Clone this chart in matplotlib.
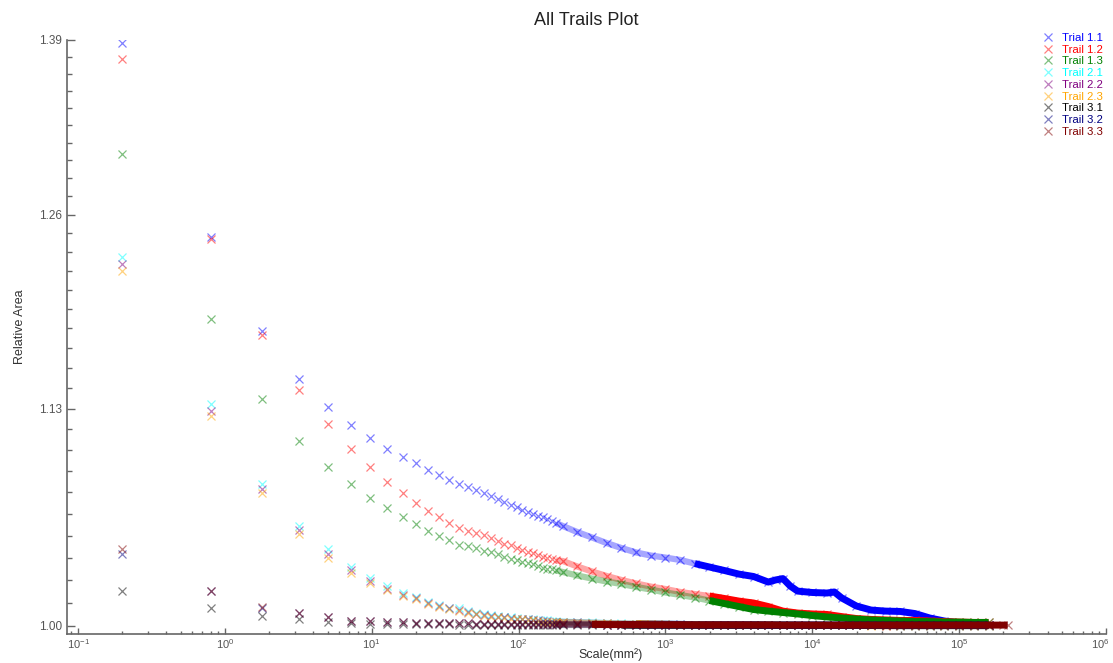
import numpy as np
import matplotlib
matplotlib.use("Agg")
import matplotlib.pyplot as plt
from matplotlib.ticker import FixedLocator, LogLocator, NullFormatter
from matplotlib.transforms import ScaledTranslation

plt.rcParams['font.family'] = ['Liberation Sans', 'DejaVu Sans']
plt.rcParams['mathtext.fontset'] = 'custom'
plt.rcParams['mathtext.rm'] = 'Liberation Sans'
plt.rcParams['mathtext.it'] = 'Liberation Sans:italic'
plt.rcParams['mathtext.bf'] = 'Liberation Sans:bold'

# ---------------- data ----------------
series_names = ["Trial 1.1", "Trail 1.2", "Trail 1.3", "Trail 2.1", "Trail 2.2",
                "Trail 2.3", "Trail 3.1", "Trail 3.2", "Trail 3.3"]

# box-scale values (mm^2) for the individually visible points
scale_disc = [0.2, 0.8, 1.8, 3.2, 5.0, 7.2, 9.8, 12.8, 16.2, 20.0, 24.2, 28.8, 33.8, 39.2,
              45.0, 51.2, 57.8, 64.8, 72.2, 80.0, 88.2, 96.8, 105.8, 115.2, 125.0, 135.2,
              145.8, 156.8, 168.2, 180.0]

# scale values for the dense (overlapping) tail
scale_tail = [200, 251, 316, 398, 501, 631, 794, 1000, 1259, 1585, 1995, 2512, 3162, 3981,
              5012, 6310, 7943, 10000, 12589, 15849, 19953, 25119, 31623, 39811, 50119,
              63096, 79433, 100000, 125893, 158489]
scale_tail_11 = [200, 251, 316, 398, 501, 631, 794, 1000, 1259, 1585, 1995, 2512, 3162, 3981,
                 5012, 5623, 6310, 7079, 7943, 10000, 12589, 14125, 15849, 19953, 25119,
                 31623, 39811, 50119, 63096, 79433, 100000, 125893, 158489]
scale_tail_33 = [200, 251, 316, 398, 501, 631, 794, 1000, 1259, 1585, 1995, 2512, 3162, 3981,
                 5012, 6310, 7943, 10000, 12589, 15849, 19953, 25119, 31623, 39811, 50119,
                 63096, 79433, 100000, 125893, 158489, 199526, 214000]

t11_disc = [1.388, 1.244, 1.1805, 1.149, 1.1309, 1.1194, 1.1114, 1.1045, 1.0998, 1.0957, 1.0916,
            1.0885, 1.0855, 1.0831, 1.0812, 1.0794, 1.0773, 1.0755, 1.0737, 1.0721, 1.0706,
            1.0691, 1.0676, 1.0664, 1.0652, 1.0640, 1.0629, 1.0617, 1.0605, 1.0596]
t11_tail = [1.0578, 1.0542, 1.0510, 1.0477, 1.0448, 1.0422, 1.0404, 1.0392, 1.0378, 1.0357,
            1.0337, 1.0317, 1.0296, 1.0282, 1.0250, 1.0262, 1.0270, 1.0227, 1.0198, 1.0190,
            1.0187, 1.0193, 1.0159, 1.0113, 1.0090, 1.0084, 1.0082, 1.0070, 1.0045, 1.0028,
            1.0017, 1.0008, 1.0003]

t12_disc = [1.375, 1.243, 1.1776, 1.142, 1.1202, 1.1045, 1.0933, 1.0845, 1.0774, 1.0714, 1.0667,
            1.063, 1.0594, 1.0564, 1.0551, 1.0539, 1.0522, 1.0504, 1.0489, 1.0474, 1.0463,
            1.0448, 1.0436, 1.0424, 1.0416, 1.0407, 1.0398, 1.0389, 1.0384, 1.0375]
t12_tail = [1.0372, 1.0340, 1.0311, 1.0285, 1.0262, 1.0242, 1.0224, 1.0210, 1.0193, 1.0181,
            1.0170, 1.0156, 1.0141, 1.0130, 1.0110, 1.0084, 1.0073, 1.0068, 1.0065, 1.0053,
            1.0042, 1.0037, 1.0034, 1.0031, 1.0031, 1.0028, 1.0025, 1.0022, 1.0020, 1.0020]

t13_disc = [1.304, 1.188, 1.1358, 1.1095, 1.0933, 1.0831, 1.0744, 1.0684, 1.063, 1.0588, 1.055,
            1.0519, 1.0495, 1.0466, 1.0457, 1.0448, 1.0433, 1.0422, 1.0410, 1.0398, 1.0386,
            1.0378, 1.0369, 1.0360, 1.0352, 1.0343, 1.0334, 1.0328, 1.0323, 1.0317]
t13_tail = [1.0308, 1.0288, 1.0270, 1.0253, 1.0239, 1.0222, 1.0207, 1.0190, 1.0176, 1.0161,
            1.0144, 1.0127, 1.0110, 1.0093, 1.0084, 1.0076, 1.0068, 1.0059, 1.0051, 1.0045,
            1.0039, 1.0034, 1.0031, 1.0028, 1.0025, 1.0025, 1.0022, 1.0022, 1.0020, 1.0020]

t21_disc = [1.2306, 1.1327, 1.0829, 1.058, 1.044, 1.0339, 1.0275, 1.0227, 1.0185, 1.0166, 1.0137,
            1.0119, 1.0103, 1.0100, 1.0084, 1.0076, 1.0068, 1.0062, 1.0056, 1.0051, 1.0048,
            1.0045, 1.0042, 1.0039, 1.0037, 1.0034, 1.0031, 1.0031, 1.0028, 1.0028]
t21_tail = [1.0025, 1.0022, 1.0020, 1.0017, 1.0015, 1.0013, 1.0011, 1.0010, 1.0009, 1.0008,
            1.0008, 1.0007, 1.0006, 1.0006, 1.0005, 1.0005, 1.0004, 1.0004, 1.0004, 1.0003,
            1.0003, 1.0003, 1.0003, 1.0002, 1.0002, 1.0002, 1.0002, 1.0002, 1.0002, 1.0002]

t22_disc = [1.2253, 1.1284, 1.0798, 1.0554, 1.0413, 1.032, 1.0256, 1.021, 1.0176, 1.0156, 1.013,
            1.0113, 1.0099, 1.009, 1.0079, 1.0070, 1.0062, 1.0056, 1.0051, 1.0048, 1.0045,
            1.0042, 1.0039, 1.0037, 1.0034, 1.0031, 1.0028, 1.0028, 1.0025, 1.0025]
t22_tail = [1.0023, 1.0020, 1.0018, 1.0016, 1.0014, 1.0012, 1.0011, 1.0010, 1.0009, 1.0008,
            1.0007, 1.0007, 1.0006, 1.0005, 1.0005, 1.0004, 1.0004, 1.0004, 1.0003, 1.0003,
            1.0003, 1.0003, 1.0002, 1.0002, 1.0002, 1.0002, 1.0002, 1.0002, 1.0002, 1.0002]

t23_disc = [1.2209, 1.1254, 1.0774, 1.053, 1.0391, 1.0304, 1.0246, 1.0204, 1.017, 1.0151, 1.0126,
            1.011, 1.0094, 1.0087, 1.0076, 1.0068, 1.0059, 1.0053, 1.0048, 1.0045, 1.0042,
            1.0039, 1.0037, 1.0034, 1.0031, 1.0028, 1.0025, 1.0025, 1.0022, 1.0022]
t23_tail = [1.0021, 1.0019, 1.0017, 1.0015, 1.0013, 1.0012, 1.0010, 1.0009, 1.0008, 1.0008,
            1.0007, 1.0006, 1.0006, 1.0005, 1.0005, 1.0004, 1.0004, 1.0003, 1.0003, 1.0003,
            1.0003, 1.0002, 1.0002, 1.0002, 1.0002, 1.0002, 1.0002, 1.0002, 1.0002, 1.0002]

t31_disc = [1.0199, 1.0100, 1.0056, 1.0039, 1.0024, 1.0017, 1.0014, 1.0012, 1.0011, 1.0010,
            1.0010, 1.0009, 1.0009, 1.0008, 1.0008, 1.0008, 1.0007, 1.0007, 1.0007, 1.0007,
            1.0006, 1.0006, 1.0006, 1.0006, 1.0006, 1.0006, 1.0005, 1.0005, 1.0005, 1.0005]
t31_tail = [1.0005, 1.0005, 1.0005, 1.0005, 1.0005, 1.0004, 1.0004, 1.0004, 1.0004, 1.0004,
            1.0004, 1.0004, 1.0004, 1.0004, 1.0004, 1.0004, 1.0004, 1.0004, 1.0004, 1.0004,
            1.0004, 1.0004, 1.0004, 1.0004, 1.0004, 1.0004, 1.0004, 1.0004, 1.0004, 1.0004]

t32_disc = [1.0413, 1.0199, 1.0101, 1.0072, 1.0051, 1.0030, 1.0026, 1.0023, 1.0021, 1.0019,
            1.0018, 1.0017, 1.0016, 1.0015, 1.0015, 1.0014, 1.0014, 1.0013, 1.0013, 1.0013,
            1.0012, 1.0012, 1.0012, 1.0011, 1.0011, 1.0011, 1.0011, 1.0010, 1.0010, 1.0010]
t32_tail = [1.0010, 1.0009, 1.0009, 1.0008, 1.0008, 1.0008, 1.0007, 1.0007, 1.0007, 1.0006,
            1.0006, 1.0006, 1.0006, 1.0006, 1.0005, 1.0005, 1.0005, 1.0005, 1.0005, 1.0005,
            1.0005, 1.0005, 1.0005, 1.0005, 1.0005, 1.0005, 1.0005, 1.0005, 1.0005, 1.0005]

t33_disc = [1.0440, 1.0199, 1.0109, 1.0072, 1.0052, 1.0030, 1.0026, 1.0023, 1.0021, 1.0019,
            1.0018, 1.0017, 1.0016, 1.0015, 1.0015, 1.0014, 1.0014, 1.0013, 1.0013, 1.0013,
            1.0012, 1.0012, 1.0012, 1.0011, 1.0011, 1.0011, 1.0011, 1.0010, 1.0010, 1.0010]
t33_tail = [1.0010, 1.0009, 1.0009, 1.0008, 1.0008, 1.0008, 1.0007, 1.0007, 1.0007, 1.0006,
            1.0006, 1.0006, 1.0006, 1.0006, 1.0006, 1.0005, 1.0005, 1.0005, 1.0005, 1.0005,
            1.0005, 1.0005, 1.0005, 1.0005, 1.0005, 1.0005, 1.0005, 1.0005, 1.0005, 1.0005,
            1.0005, 1.0005]

y_major = [1.00, 1.13, 1.26, 1.39]
y_major_labels = ["1.00", "1.13", "1.26", "1.39"]
x_major = [1e-1, 1e0, 1e1, 1e2, 1e3, 1e4, 1e5, 1e6]

# ---------------- style ----------------
colors = ["#0000ff", "#ff0000", "#008000", "#00ffff", "#800080",
          "#ffa500", "#000000", "#000080", "#800000"]
solid_from = [1500, 1600, 1600, 600, 600, 600, 400, 400, 300]

discs = [t11_disc, t12_disc, t13_disc, t21_disc, t22_disc, t23_disc, t31_disc, t32_disc, t33_disc]
tails = [t11_tail, t12_tail, t13_tail, t21_tail, t22_tail, t23_tail, t31_tail, t32_tail, t33_tail]
tail_x = [scale_tail_11, scale_tail, scale_tail, scale_tail, scale_tail, scale_tail,
          scale_tail, scale_tail, scale_tail_33]

W, H = 1113, 663
fig = plt.figure(figsize=(W / 100, H / 100), dpi=100)
ax = fig.add_axes([67 / W, (H - 634) / H, (1106 - 67) / W, (634 - 40) / H])
ax.set_xscale("log")
ax.set_yscale("log")

mk = dict(ls="none", marker="x", ms=6, mew=0.9, alpha=0.5)
handles = []
for name, c, dy, ty, tx, thr in zip(series_names, colors, discs, tails, tail_x, solid_from):
    h, = ax.plot(scale_disc, dy, color=c, label=name, **mk)
    handles.append(h)
    lx = np.array([scale_disc[-1]] + list(tx))
    ly = np.array([dy[-1]] + list(ty))
    mid = lx <= thr * 1.3
    far = lx >= thr
    ax.plot(lx[mid], ly[mid], "-", color=c, lw=4.5, alpha=0.35, solid_capstyle="butt")
    ax.plot(lx[far], ly[far], "-", color=c, lw=5, alpha=1.0, solid_capstyle="butt")
    ax.plot(tx, ty, color=c, **mk)

ax.set_xlim(0.0841, 1e6)
ax.set_ylim(0.99551, 1.39)

ax.yaxis.set_major_locator(FixedLocator(y_major))
ax.set_yticklabels(y_major_labels)
ax.yaxis.set_minor_locator(FixedLocator([1 + 0.013 * i for i in range(1, 30) if i % 10]))
ax.yaxis.set_minor_formatter(NullFormatter())

ax.xaxis.set_major_locator(FixedLocator(x_major))
ax.xaxis.set_minor_locator(LogLocator(base=10, subs=np.arange(2, 10), numticks=20))
ax.xaxis.set_minor_formatter(NullFormatter())

for s in ["top", "right"]:
    ax.spines[s].set_visible(False)
for s in ["left", "bottom"]:
    ax.spines[s].set_color("#666666")
    ax.spines[s].set_linewidth(1.2)

ax.tick_params(axis="both", which="both", direction="in", colors="#666666",
               labelcolor="#555555", labelsize=8.5, width=1)
ax.tick_params(axis="x", which="major", labelsize=8)
ax.tick_params(axis="y", which="major", length=6)
ax.tick_params(axis="y", which="minor", length=3.5)
ax.tick_params(axis="x", which="major", length=4, pad=2)
ax.tick_params(axis="x", which="minor", length=2.5)

ax.set_title("All Trails Plot", fontsize=13, pad=11, color="#222222")
ax.set_ylabel("Relative Area", fontsize=9, color="#333333")
ax.yaxis.set_label_coords(-0.0395, 0.517)
ax.set_xlabel("Scale(mm²)", fontsize=9, color="#333333")
ax.xaxis.label.set_va("center")
ax.xaxis.set_label_coords(0.5236, -0.0354)

fig.legend(handles=handles, loc="upper right", bbox_to_anchor=(1103 / W, 1 - 33 / H),
           frameon=False, fontsize=8.2, labelcolor="linecolor", handlelength=1.2,
           handletextpad=0.6, labelspacing=0.15, borderpad=0, borderaxespad=0)

fig.canvas.draw()
last = ax.xaxis.get_major_ticks()[-1].label1
last.set_transform(last.get_transform() + ScaledTranslation(-6 / 100, 0, fig.dpi_scale_trans))

fig.savefig("out.png", dpi=100)
